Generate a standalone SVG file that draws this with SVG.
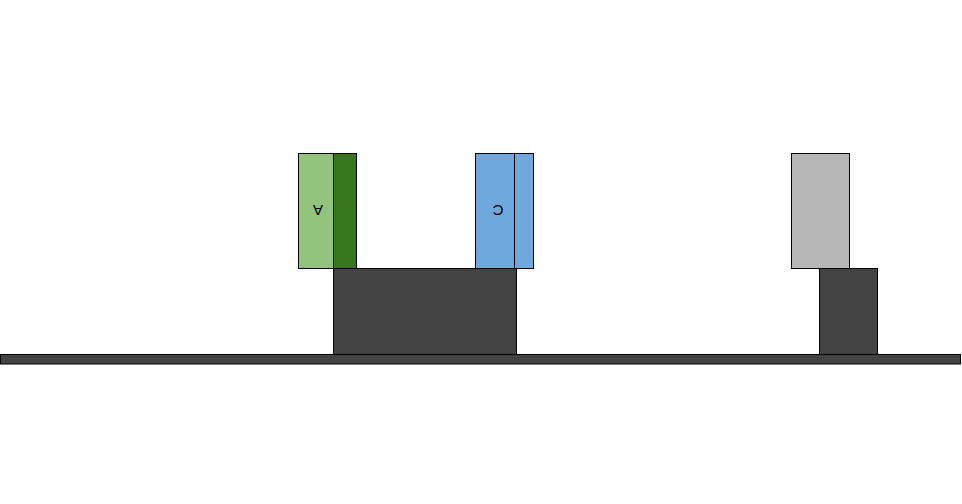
<svg xmlns="http://www.w3.org/2000/svg" width="962" height="504" viewBox="0 0 962 504">
<style>
rect{stroke:#000;stroke-width:1}
.dark{fill:#434343}
.lbl{font-family:"Liberation Sans",Arial,sans-serif;font-size:15px;fill:#000;text-anchor:middle;dominant-baseline:central}
</style>
<rect width="962" height="504" fill="#fff" style="stroke:none"/>
<g id="floor"><rect class="dark" x="0.5" y="354.5" width="960" height="9.5"/></g>
<g id="base-left"><rect class="dark" x="333.5" y="268.5" width="183" height="86"/></g>
<g id="base-right"><rect class="dark" x="819.5" y="268.5" width="58" height="86"/></g>
<g id="node-a">
<rect x="298.5" y="153.5" width="35" height="115" fill="#93c47d"/>
<rect x="333.5" y="153.5" width="23" height="115" fill="#38761d"/>
<text class="lbl" x="318" y="210" transform="rotate(180 318 210)">A</text>
</g>
<g id="node-c">
<rect x="475.5" y="153.5" width="39" height="115" fill="#6fa8dc"/>
<rect x="514.5" y="153.5" width="19" height="115" fill="#6fa8dc"/>
<text class="lbl" x="498" y="210" transform="rotate(180 498 210)">C</text>
</g>
<g id="node-gray"><rect x="791.5" y="153.5" width="58" height="115" fill="#b7b7b7"/></g>
<g id="connectors"></g>
</svg>
